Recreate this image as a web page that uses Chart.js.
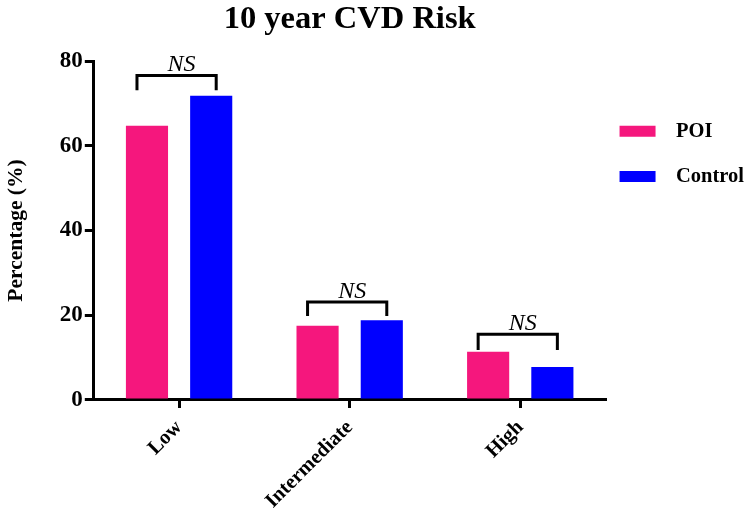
<!DOCTYPE html>
<html>
<head>
<meta charset="utf-8">
<script src="https://cdn.jsdelivr.net/npm/chart.js@4"></script>
<style>
  html, body { margin: 0; padding: 0; background: #fff; }
  #wrap { width: 750px; height: 517px; }
</style>
</head>
<body>
<div id="wrap"><canvas id="grafico_cvd"></canvas></div>
<script>
const categorias = ['Low', 'Intermediate', 'High'];
const poi = [64.7, 17.5, 11.4];
const controle = [71.8, 18.8, 7.8];
const yTicks = [0, 20, 40, 60, 80];
// NS brackets: top bar of the bracket and bottom of its legs (axis units)
const chaveTopo = [76.6, 23.1, 15.5];
const chavePerna = [73.1, 19.8, 11.8];
const chaveTexto = ['NS', 'NS', 'NS'];

const serif = "'Liberation Serif', 'Times New Roman', serif";

const pluginChaves = {
  id: 'chaves',
  afterDatasetsDraw(chart) {
    const c = chart.ctx;
    const y = chart.scales.y;
    const m0 = chart.getDatasetMeta(0).data;
    const m1 = chart.getDatasetMeta(1).data;
    c.save();
    c.strokeStyle = '#000';
    c.lineWidth = 3;
    c.fillStyle = '#000';
    c.font = 'italic 24px ' + serif;
    c.textAlign = 'center';
    c.textBaseline = 'alphabetic';
    categorias.forEach((_, i) => {
      const x1 = m0[i].x - 10;
      const x2 = m1[i].x + 5;
      const yt = y.getPixelForValue(chaveTopo[i]);
      const yb = y.getPixelForValue(chavePerna[i]);
      c.beginPath();
      c.moveTo(x1, yb);
      c.lineTo(x1, yt);
      c.lineTo(x2, yt);
      c.lineTo(x2, yb);
      c.stroke();
      c.fillText(chaveTexto[i], (x1 + x2) / 2 + 5, yt - 4);
    });
    c.restore();
  }
};

const ctx = document.getElementById('grafico_cvd').getContext('2d');

const grafico = new Chart(ctx, {
  type: 'bar',
  data: {
    labels: categorias,
    datasets: [
      { label: 'POI', data: poi, backgroundColor: '#F5177D', borderWidth: 0 },
      { label: 'Control', data: controle, backgroundColor: '#0000FF', borderWidth: 0 }
    ]
  },
  plugins: [pluginChaves],
  options: {
    responsive: true,
    maintainAspectRatio: false,
    animation: false,
    categoryPercentage: 0.753,
    barPercentage: 0.656,
    layout: { padding: { left: 4, right: -4, top: 0, bottom: -4 } },
    plugins: {
      title: {
        display: true,
        fullSize: false,
        text: '10 year CVD Risk',
        color: '#000',
        font: { family: serif, size: 32.5, weight: 'bold' },
        padding: { top: 0, bottom: 22 }
      },
      legend: {
        position: 'right',
        align: 'start',
        maxWidth: 220,
        title: { display: true, text: ' ', font: { size: 10 }, padding: { top: 95, bottom: 0 } },
        labels: {
          color: '#000',
          boxWidth: 36,
          boxHeight: 11,
          padding: 14,
          font: { family: serif, size: 20.5, weight: 'bold', lineHeight: 1.52 },
          // wrap in an array so the row height follows font.lineHeight
          generateLabels(chart) {
            return Chart.defaults.plugins.legend.labels.generateLabels(chart)
              .map(item => ({ ...item, text: ['  ' + item.text] }));
          }
        }
      },
      tooltip: { enabled: false }
    },
    scales: {
      x: {
        offset: true,
        border: { display: true, color: '#000', width: 3 },
        grid: { display: true, drawOnChartArea: false, offset: false, color: '#000', lineWidth: 3, tickLength: 8 },
        ticks: {
          color: '#000',
          maxRotation: 45,
          minRotation: 45,
          padding: 9,
          font: { family: serif, size: 20.5, weight: 'bold', lineHeight: 1.0 }
        }
      },
      y: {
        min: 0,
        max: 80,
        afterBuildTicks(scale) { scale.ticks = yTicks.map(v => ({ value: v })); },
        border: { display: true, color: '#000', width: 3 },
        grid: { display: true, drawOnChartArea: false, color: '#000', lineWidth: 3, tickLength: 9 },
        ticks: {
          color: '#000',
          padding: 2,
          font: { family: serif, size: 23, weight: 'bold' }
        },
        title: {
          display: true,
          text: 'Percentage (%)',
          color: '#000',
          padding: { top: 0, bottom: 28 },
          font: { family: serif, size: 21.5, weight: 'bold' }
        }
      }
    }
  }
});
</script>
</body>
</html>
